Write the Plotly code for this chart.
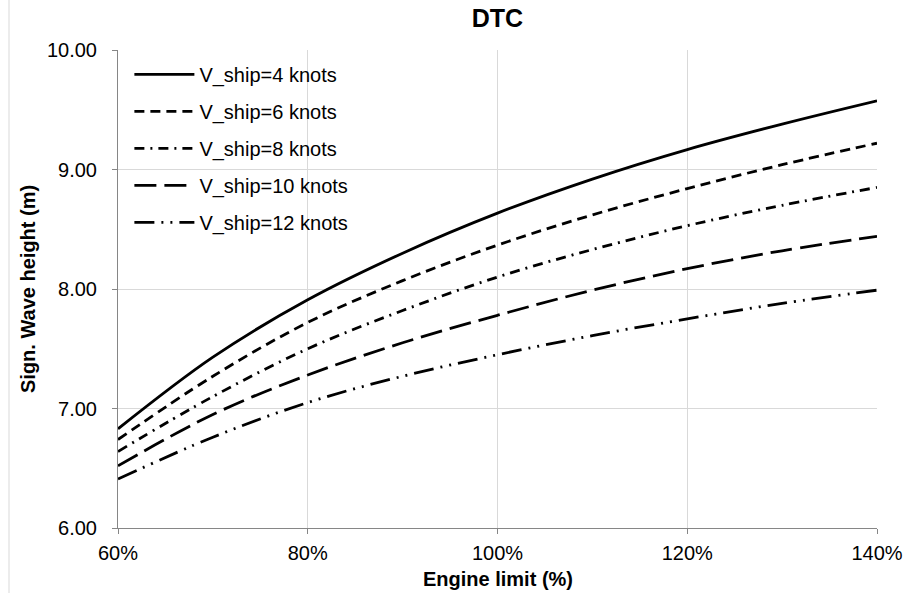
import plotly.graph_objects as go

# Engine limit (% of MCR) and significant wave height (m) for each ship speed
engine_limit = [60, 70, 80, 90, 100, 110, 120, 130, 140]
hs_4kn = [6.83, 7.43, 7.91, 8.30, 8.635, 8.92, 9.167, 9.38, 9.575]
hs_6kn = [6.74, 7.27, 7.72, 8.07, 8.367, 8.62, 8.84, 9.04, 9.22]
hs_8kn = [6.64, 7.10, 7.50, 7.82, 8.10, 8.33, 8.53, 8.70, 8.85]
hs_10kn = [6.52, 6.95, 7.28, 7.55, 7.78, 7.99, 8.17, 8.32, 8.44]
hs_12kn = [6.41, 6.76, 7.05, 7.27, 7.45, 7.61, 7.75, 7.88, 7.99]

series_names = ["V_ship=4 knots", "V_ship=6 knots", "V_ship=8 knots",
                "V_ship=10 knots", "V_ship=12 knots"]
series_values = [hs_4kn, hs_6kn, hs_8kn, hs_10kn, hs_12kn]
dash_styles = ["solid", "10px,6px", "10px,6px,2px,6px", "22px,8px",
               "20px,7px,2px,7px,2px,7px"]

y_ticks = [6, 7, 8, 9, 10]
x_ticks = [60, 80, 100, 120, 140]
x_tick_labels = [f"{v}%" for v in x_ticks]

FONT = "Liberation Sans, Arial, sans-serif"

fig = go.Figure()
for i, (name, vals, dash) in enumerate(zip(series_names, series_values, dash_styles)):
    fig.add_trace(go.Scatter(
        x=engine_limit, y=vals, name=name, mode="lines",
        line=dict(color="black", width=2.8, dash=dash, shape="spline", smoothing=1.0),
        legendgroup=f"g{i}",
    ))

fig.update_layout(
    width=922, height=593,
    margin=dict(l=118, r=45, t=50, b=65),
    paper_bgcolor="white", plot_bgcolor="white",
    title=dict(text="<b>DTC</b>", x=(118 + 877) / 2 / 922, xanchor="center",
               y=1 - 18 / 593, yanchor="middle",
               font=dict(family=FONT, size=25, color="black")),
    font=dict(family=FONT, color="black"),
    showlegend=True,
    legend=dict(x=0.015, y=0.99, xanchor="left", yanchor="top",
                bgcolor="rgba(0,0,0,0)", traceorder="grouped", tracegroupgap=8,
                itemwidth=60,
                font=dict(family=FONT, size=20, color="black")),
    xaxis=dict(
        range=[60, 140], tickvals=x_ticks, ticktext=x_tick_labels,
        showgrid=True, gridcolor="#d9d9d9", gridwidth=1,
        showline=True, linecolor="#868686", linewidth=1,
        ticks="outside", ticklen=5, tickcolor="#868686",
        ticklabelstandoff=2, automargin=False,
        tickfont=dict(family=FONT, size=20, color="black"),
        zeroline=False,
    ),
    yaxis=dict(
        range=[6, 10], tickvals=y_ticks, tickformat=".2f",
        showgrid=True, gridcolor="#d9d9d9", gridwidth=1,
        showline=True, linecolor="#868686", linewidth=1,
        ticks="outside", ticklen=5, tickcolor="#868686",
        ticklabelstandoff=11, automargin=False,
        tickfont=dict(family=FONT, size=20, color="black"),
        zeroline=False,
    ),
    annotations=[
        dict(text="<b>Engine limit (%)</b>", xref="paper", yref="paper",
             x=0.5, y=-(579 - 528) / 478, xanchor="center", yanchor="middle",
             showarrow=False, font=dict(family=FONT, size=20, color="black")),
        dict(text="<b>Sign. Wave height (m)</b>", xref="paper", yref="paper",
             x=-(118 - 28) / 759, y=0.5, xanchor="center", yanchor="middle",
             textangle=-90, showarrow=False,
             font=dict(family=FONT, size=20, color="black")),
    ],
    shapes=[dict(type="line", xref="paper", yref="paper",
                 x0=-109 / 759, x1=-109 / 759, y0=-65 / 478, y1=1 + 50 / 478,
                 line=dict(color="#d9d9d9", width=1))],
)

fig.write_html("out.html")
